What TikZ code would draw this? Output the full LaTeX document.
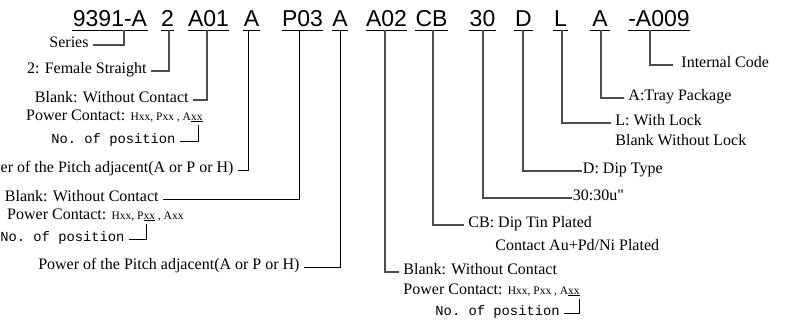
\documentclass[tikz,border=0pt]{standalone}
\usepackage{fontspec}
\setmainfont{Liberation Serif}
\newfontfamily\codefont{Liberation Sans}
\newfontfamily\posfont{Liberation Mono}
\usepackage{tikz}

\newcommand{\notefont}{\fontsize{16}{18}\selectfont}
\newcommand{\pinfont}{\fontsize{11.5}{12}\selectfont}
\newcommand{\inchmark}{\XeTeXglyph\XeTeXcharglyph"22\relax}

\begin{document}
\begin{tikzpicture}[x=1pt,y=-1pt,line width=0.9pt,
  code/.style={font=\codefont\fontsize{23}{24}\selectfont,inner sep=0pt,anchor=south,text height=17pt,text depth=3pt},
  note/.style={font=\notefont,inner xsep=4pt,inner ysep=1pt},
  posn/.style={font=\posfont\fontsize{13.8}{15}\selectfont,inner xsep=4pt,inner ysep=1pt},
  lead/.style={draw=black!70,line width=1.1pt},
  leadk/.style={draw=black,line width=0.8pt}]

  \useasboundingbox (0,0) rectangle (796,324);

  % part number
  \node[code,minimum width=74pt] at (110,30) (c1){9391-A};
  \node[code,minimum width=13pt] at (167.5,30) (c2){2};
  \node[code,minimum width=41pt] at (208.5,30) (c3){A01};
  \node[code,minimum width=15pt] at (251.5,30) (c4){A};
  \node[code,minimum width=41pt] at (302.5,30) (c5){P03};
  \node[code,minimum width=16pt] at (340,30) (c6){A};
  \node[code,minimum width=41pt] at (386.5,30) (c7){A02};
  \node[code,minimum width=31pt] at (431.5,30) (c8){CB};
  \node[code,minimum width=25pt] at (482.5,30) (c9){30};
  \node[code,minimum width=19pt] at (523.5,30) (c10){D};
  \node[code,minimum width=15pt] at (560.5,30) (c11){L};
  \node[code,minimum width=20pt] at (600,30) (c12){A};
  \node[code,minimum width=62pt] at (659,30) (c13){-A009};
  \foreach \n in {1,...,13}
    \draw (c\n.south west) -- (c\n.south east);

  % left side
  \node[note,anchor=mid east] at (93,45) (series){Series};
  \draw [lead] ([xshift=14pt]c1.south) |- (series.mid east);
  \node[note,anchor=mid east] at (151,71) (female){2: Female Straight};
  \draw [lead] ([xshift=1.5pt]c2.south) |- (female.mid east);

  \node[note,anchor=mid east] at (193,100) (blank1){Blank: Without Contact};
  \draw [lead] ([xshift=-1.5pt]c3.south) |- (blank1.mid east);
  \node[note,anchor=mid east] at (207,118) (pc1){Power Contact: {\pinfont Hxx, Pxx , A\underline{xx}}};
  \node[posn,anchor=mid east] at (180,141) (pos1){No.\ of position};
  \coordinate (ax1) at (198,125);
  \draw (pos1.mid east) -| (ax1);

  \node[note,anchor=mid east] at (238,170) (pitch1){Power of the Pitch adjacent(A or P or H)~};
  \draw [leadk] ([xshift=-3.5pt]c4.south) |- (pitch1.mid east);

  \node[note,anchor=mid east] at (163,199) (blank2){Blank: Without Contact~};
  \draw [leadk] ([xshift=-3.5pt]c5.south) |- (blank2.mid east);
  \node[note,anchor=mid east] at (188,217) (pc2){Power Contact: {\pinfont Hxx, P\underline{xx} , Axx}};
  \node[posn,anchor=mid east] at (129,239) (pos2){No.\ of position};
  \coordinate (ax2) at (146,224);
  \draw (pos2.mid east) -| (ax2);

  \node[note,anchor=mid east] at (304,267) (pitch2){Power of the Pitch adjacent(A or P or H)~};
  \draw [leadk] (c6.south) |- (pitch2.mid east);

  % right side
  \node[note,anchor=mid west] at (673,65) (internal){~Internal Code};
  \draw [lead] ([xshift=-9pt]c13.south) |- (internal.mid west);
  \node[note,anchor=mid west] at (624,98) (tray){A:Tray Package};
  \draw [lead] ([xshift=1pt]c12.south) |- (tray.mid west);
  \node[note,anchor=mid west] at (611,123) (lock){L: With Lock};
  \node[note,anchor=mid west] at (611,143) (nolock){Blank Without Lock};
  \draw [lead] ([xshift=1.5pt]c11.south) |- (lock.mid west);
  \node[note,anchor=mid west,inner xsep=0.5pt] at (582,171) (dip){D: Dip Type};
  \draw [lead] ([xshift=-0.5pt]c10.south) |- (dip.mid west);
  \node[note,anchor=mid west,inner xsep=0.5pt] at (572,198) (gold){30:30u\inchmark};
  \draw [lead] ([xshift=0.5pt]c9.south) |- (gold.mid west);
  \node[note,anchor=mid west] at (464,225) (tin){CB: Dip Tin Plated};
  \node[note,anchor=mid west] at (491,248) (plate){Contact Au+Pd/Ni Plated};
  \draw [lead] ([xshift=1.5pt]c8.south) |- (tin.mid west);

  \node[note,anchor=mid west] at (399,272) (blank3){Blank: Without Contact};
  \draw [lead] ([xshift=-1.5pt]c7.south) |- (blank3.mid west);
  \node[note,anchor=mid west] at (399,292) (pc3){Power Contact: {\pinfont Hxx, Pxx , A\underline{xx}}};
  \node[posn,anchor=mid west] at (431,313) (pos3){No.\ of position};
  \coordinate (ax3) at (579,299);
  \draw (pos3.mid east) -| (ax3);

\end{tikzpicture}
\end{document}
